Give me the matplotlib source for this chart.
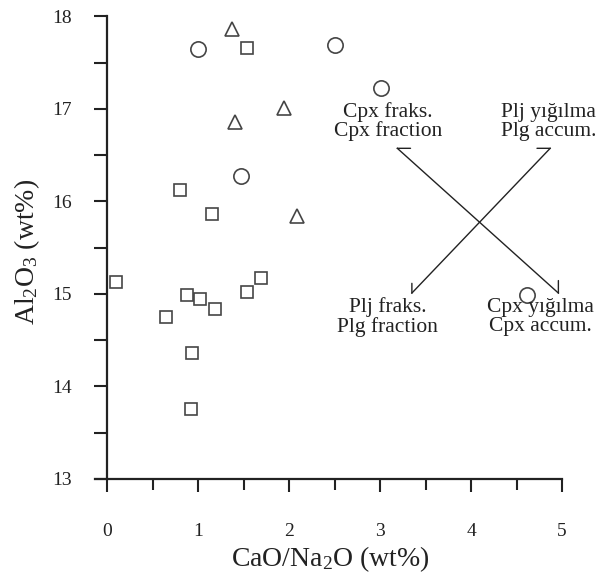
import matplotlib
matplotlib.use("Agg")
import matplotlib.pyplot as plt
from matplotlib.ticker import MultipleLocator

plt.rcParams['font.family'] = ['Liberation Serif', 'DejaVu Serif']
plt.rcParams['mathtext.fontset'] = 'custom'
plt.rcParams['mathtext.rm'] = 'Liberation Serif'
plt.rcParams['mathtext.it'] = 'Liberation Serif:italic'

# CaO/Na2O vs Al2O3 by group
squares_x = [1.54, 0.80, 1.15, 0.10, 0.65, 0.88, 1.02, 1.19, 1.54, 1.69, 0.93, 0.92]
squares_y = [17.66, 16.12, 15.86, 15.13, 14.75, 14.99, 14.95, 14.84, 15.02, 15.17, 14.36, 13.76]
circles_x = [1.00, 2.51, 3.01, 1.47, 4.62]
circles_y = [17.65, 17.69, 17.23, 16.28, 14.99]
triangles_x = [1.37, 1.94, 1.41, 2.09]
triangles_y = [17.87, 17.01, 16.86, 15.84]

# fractionation / accumulation vectors (start, tip)
cpx_line = [(4.96, 15.01), (3.19, 16.575)]
plg_line = [(3.35, 15.01), (4.87, 16.575)]

labels = [
    ("Cpx fraks.\nCpx fraction", 3.09, 16.86),
    ("Plj yığılma\nPlg accum.", 4.85, 16.86),
    ("Plj fraks.\nPlg fraction", 3.08, 14.75),
    ("Cpx yığılma\nCpx accum.", 4.76, 14.75),
]

ink = '#222222'
mark = '#454545'

fig = plt.figure(figsize=(6, 5.83), dpi=100)
ax = fig.add_axes([0.1587, 0.1784, 0.778, 0.7933])

kw = dict(linestyle='none', markerfacecolor='none', markeredgecolor=mark,
          markeredgewidth=1.2, clip_on=False)
ax.plot(squares_x, squares_y, marker='s', markersize=9, **kw)
ax.plot(circles_x, circles_y, marker='o', markersize=11, **kw)
ax.plot(triangles_x, triangles_y, marker='^', markersize=10, **kw)

# the two crossing vectors, each with half-barbs at both ends
for (x0, y0), (x1, y1) in (cpx_line, plg_line):
    ax.plot([x0, x1], [y0, y1], color=ink, lw=1.0)

def barb(pt, dx, dy):
    ax.annotate('', xy=pt, xycoords='data', xytext=(dx, dy),
                textcoords='offset points',
                arrowprops=dict(arrowstyle='-', color=ink, lw=1.0,
                                shrinkA=0, shrinkB=0))

barb(cpx_line[1], 9.5, 0)
barb(cpx_line[0], 0, 9)
barb(plg_line[1], -9.5, 0)
barb(plg_line[0], 0, 7)

for txt, x, y in labels:
    ax.text(x, y, txt, ha='center', va='center', fontsize=15.5,
            color=ink, linespacing=0.95)

ax.set_xlim(-0.13, 5.0)
ax.set_ylim(13, 18)
ax.spines['left'].set_position(('data', 0))
ax.spines['right'].set_visible(False)
ax.spines['top'].set_visible(False)
for s in ('left', 'bottom'):
    ax.spines[s].set_linewidth(1.6)
    ax.spines[s].set_color(ink)

ax.xaxis.set_major_locator(MultipleLocator(1))
ax.xaxis.set_minor_locator(MultipleLocator(0.5))
ax.yaxis.set_major_locator(MultipleLocator(1))
ax.yaxis.set_minor_locator(MultipleLocator(0.5))
ax.tick_params(axis='x', which='major', direction='out', length=9.5, width=1.5,
               pad=22, labelsize=14, colors=ink)
ax.tick_params(axis='x', which='minor', direction='out', length=8, width=1.5, colors=ink)
ax.tick_params(axis='y', which='both', direction='out', length=9.5, width=1.5,
               pad=16, labelsize=14, colors=ink)

ax.set_xlabel(r'CaO/Na$_2$O (wt%)', fontsize=20, color=ink)
ax.set_ylabel(r'Al$_2$O$_3$ (wt%)', fontsize=20, color=ink)
ax.xaxis.set_label_coords(0.503, -0.142)
ax.yaxis.set_label_coords(-0.113, 0.491)

fig.savefig('out.png', dpi=100)
